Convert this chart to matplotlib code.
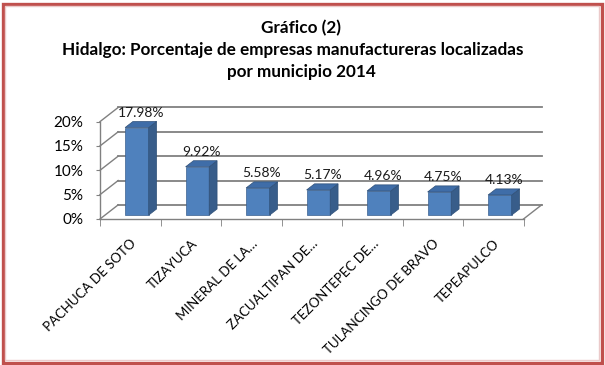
import numpy as np
import matplotlib.pyplot as plt
from matplotlib.patches import Polygon, Rectangle

plt.rcParams['font.family'] = ['Lato', 'DejaVu Sans']

# datos
municipios = ['PACHUCA DE SOTO', 'TIZAYUCA', 'MINERAL DE LA…', 'ZACUALTIPAN DE…',
              'TEZONTEPEC DE…', 'TULANCINGO DE BRAVO', 'TEPEAPULCO']
porcentaje = [17.98, 9.92, 5.58, 5.17, 4.96, 4.75, 4.13]
y_ticks = [0, 5, 10, 15, 20]
y_labels = ['0%', '5%', '10%', '15%', '20%']

# pseudo 3D (estilo Excel)
wall_dx, wall_dy = 0.30, 2.9     # desplazamiento de la pared del fondo
bar_dx, bar_dy = 0.13, 1.25      # profundidad de cada barra
bar_off, bar_base = 0.11, 0.8    # posicion de la barra dentro del piso
bar_w = 0.39
grid_c = '#808080'

W, H = 605, 365
fig = plt.figure(figsize=(W / 100, H / 100), dpi=100)
ax = fig.add_axes([100 / W, 146 / H, 453.75 / W, 112 / H])
ax.set_xlim(-0.5, 7.0)
ax.set_ylim(0, 23)

x = np.arange(len(municipios))
n = len(municipios)

# pared del fondo y pared izquierda
for v in y_ticks:
    ax.plot([-0.5 + wall_dx, n - 0.5 + wall_dx], [v + wall_dy, v + wall_dy],
            color=grid_c, lw=1.3, clip_on=False, zorder=1)
    ax.plot([-0.5, -0.5 + wall_dx], [v, v + wall_dy],
            color=grid_c, lw=1.0, clip_on=False, zorder=1)
# borde derecho del piso
ax.plot([n - 0.5, n - 0.5 + wall_dx], [0, wall_dy], color=grid_c, lw=1.0,
        clip_on=False, zorder=1)

# barras
xb = x + bar_off
ax.bar(xb, porcentaje, width=bar_w, bottom=bar_base, color='#4F81BD',
       edgecolor='#3B6190', linewidth=0.5, zorder=3)
for xi, v in zip(xb, porcentaje):
    r = xi + bar_w / 2
    l = xi - bar_w / 2
    top = bar_base + v
    side = Polygon([(r, bar_base), (r, top), (r + bar_dx, top + bar_dy),
                    (r + bar_dx, bar_base + bar_dy)], closed=True,
                   facecolor='#385D8A', edgecolor='#2F5078', lw=0.5, zorder=3)
    cap = Polygon([(l, top), (r, top), (r + bar_dx, top + bar_dy),
                   (l + bar_dx, top + bar_dy)], closed=True,
                  facecolor='#3F6DA8', edgecolor='#2F5078', lw=0.5, zorder=3)
    ax.add_patch(side)
    ax.add_patch(cap)
    ax.text(xi + bar_dx / 2, top + bar_dy + 0.5, f'{v:.2f}%', ha='center',
            va='bottom', fontsize=10, color='#1a1a1a', zorder=4)

# ejes
for s in ['top', 'right']:
    ax.spines[s].set_visible(False)
ax.spines['left'].set_bounds(0, 20)
ax.spines['bottom'].set_bounds(-0.5, n - 0.5)
ax.spines['left'].set_color(grid_c)
ax.spines['bottom'].set_color(grid_c)
ax.spines['left'].set_linewidth(1.0)
ax.spines['bottom'].set_linewidth(1.0)

ax.set_yticks(y_ticks)
ax.set_yticklabels(y_labels, fontsize=11)
ax.tick_params(axis='y', length=3, color=grid_c, pad=9)

ax.set_xticks(x)
ax.set_xticklabels(municipios, fontsize=9.5)
ax.set_xticks(np.arange(-0.5, n, 1.0), minor=True)
ax.tick_params(axis='x', which='major', length=0, pad=13)
ax.tick_params(axis='x', which='minor', length=5, color=grid_c)
for lab in ax.get_xticklabels():
    lab.set_rotation(45)
    lab.set_ha('right')
    lab.set_va('top')
    lab.set_rotation_mode('anchor')

# titulo
fig.text(301 / W, 1 - 28 / H, 'Gráfico (2)', ha='center', va='center',
         fontsize=12.3, fontweight='bold')
fig.text(293 / W, 1 - 50 / H, 'Hidalgo: Porcentaje de empresas manufactureras localizadas',
         ha='center', va='center', fontsize=12.3, fontweight='bold')
fig.text(301 / W, 1 - 72 / H, 'por municipio 2014', ha='center', va='center',
         fontsize=12.3, fontweight='bold')

# marco
fig.patches.append(Rectangle((2.5 / W, 2.5 / H), 599 / W, 359 / H,
                             transform=fig.transFigure, fill=False,
                             edgecolor='#C0504D', lw=2.4))
fig.patches.append(Rectangle((5 / W, 5 / H), 594 / W, 354 / H,
                             transform=fig.transFigure, fill=False,
                             edgecolor='#EBCACA', lw=1.0))

fig.savefig('out.png', dpi=100)
